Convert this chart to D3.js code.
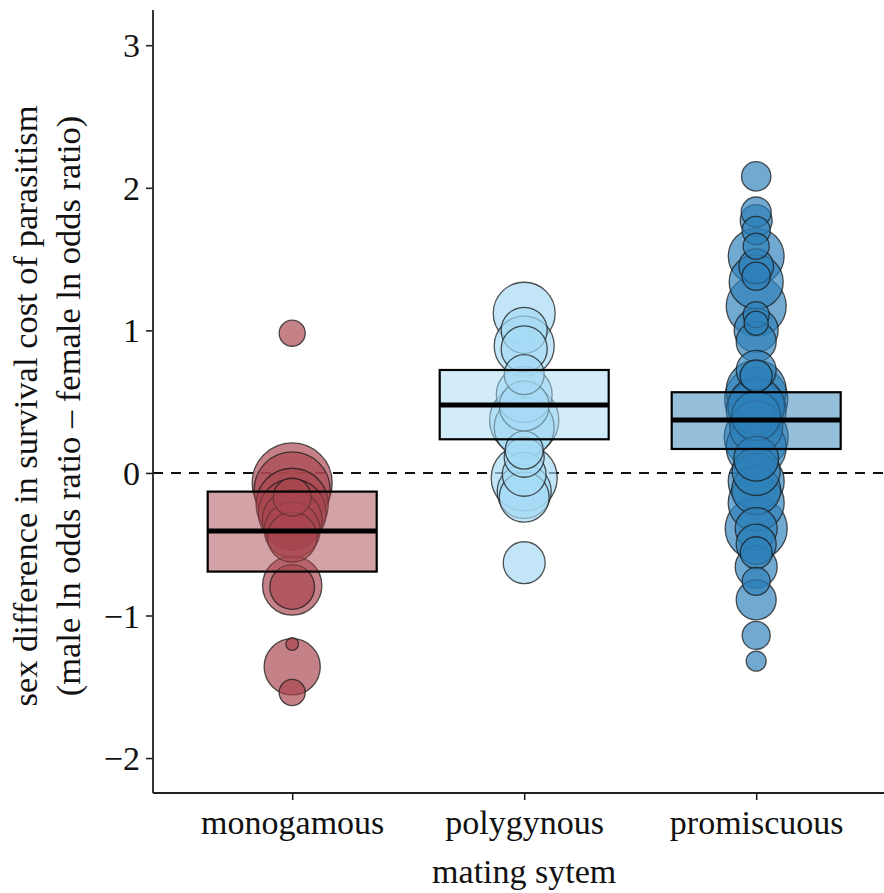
<!DOCTYPE html>
<html>
<head>
<meta charset="utf-8">
<script src="https://cdn.jsdelivr.net/npm/d3@7"></script>
<style>
  html, body { margin: 0; padding: 0; background: #fff; }
  svg { display: block; }
  text { font-family: "Liberation Serif", "DejaVu Serif", serif; fill: #111; }
</style>
</head>
<body>
<svg id="chart" width="884" height="893"></svg>
<script>
// Mating-system categories
const categories = ["monogamous", "polygynous", "promiscuous"];

// Effect sizes (male ln OR − female ln OR) with study weights, per mating system
const monoValues = [0.98, -0.07, -0.12, -0.17, -0.22, -0.28, -0.33, -0.40, -0.45, -0.79, -0.80, -1.20, -1.36, -1.54];
const monoWeights = [170, 1600, 1450, 360, 1300, 1150, 900, 780, 620, 880, 500, 40, 790, 170];

const polyValues = [1.12, 1.00, 0.89, 0.87, 0.69, 0.55, 0.47, 0.37, 0.32, 0.16, 0.11, -0.01, -0.035, -0.13, -0.17, -0.63];
const polyWeights = [960, 530, 900, 530, 400, 780, 620, 1200, 900, 360, 400, 480, 1090, 730, 620, 440];

const promValues = [2.08, 1.83, 1.77, 1.70, 1.59, 1.52, 1.45, 1.34, 1.38, 1.17, 1.11, 1.05, 1.00, 0.92, 0.72, 0.68,
  0.58, 0.52, 0.47, 0.44, 0.40, 0.32, 0.25, 0.18, 0.10, 0.01, -0.06, -0.12, -0.21, -0.39, -0.39, -0.50, -0.56,
  -0.66, -0.76, -0.89, -1.14, -1.32];
const promWeights = [215, 225, 256, 200, 170, 780, 300, 730, 200, 900, 170, 145, 484, 400, 400, 256,
  900, 1000, 800, 900, 600, 700, 1024, 900, 500, 576, 784, 600, 784, 961, 441, 400, 256,
  441, 196, 400, 196, 100];

// Model estimates: mean with lower / upper bounds
const estMean = [-0.408, 0.477, 0.372];
const estLower = [-0.692, 0.236, 0.168];
const estUpper = [-0.131, 0.722, 0.566];

// Axis ticks
const yTicks = [-2, -1, 0, 1, 2, 3];

const groupColors = ["#a8464e", "#a5daf5", "#2d80b9"];

const groups = [
  { values: monoValues, weights: monoWeights },
  { values: polyValues, weights: polyWeights },
  { values: promValues, weights: promWeights }
];

const svg = d3.select("#chart");
const margin = { left: 153, top: 10, bottom: 100 };
const W = 884, H = 893;
const plotBottom = H - margin.bottom;

// discrete x scale: one step per category, 0.6 step padding at the ends
const step = 232;
const x = d3.scalePoint()
  .domain(categories)
  .range([margin.left + 0.6 * step, margin.left + 0.6 * step + 2 * step]);

const y = d3.scaleLinear().domain([-2.245, 3.247]).range([plotBottom, margin.top]);
const r = d3.scaleSqrt().domain([0, 1600]).range([0, 40]);

// zero reference line
svg.append("line")
  .attr("x1", margin.left).attr("x2", W)
  .attr("y1", y(0)).attr("y2", y(0))
  .attr("stroke", "#111").attr("stroke-width", 2)
  .attr("stroke-dasharray", "10,8");

// effect-size points, largest drawn first
groups.forEach((g, i) => {
  const pts = g.values.map((v, k) => ({ v, w: g.weights[k] }))
    .sort((a, b) => b.w - a.w);
  svg.append("g").selectAll("circle").data(pts).join("circle")
    .attr("cx", x(categories[i]))
    .attr("cy", d => y(d.v))
    .attr("r", d => r(d.w))
    .attr("fill", groupColors[i])
    .attr("fill-opacity", 0.68)
    .attr("stroke", "#1a1a1a")
    .attr("stroke-opacity", 0.75)
    .attr("stroke-width", 1.3);
});

// estimate boxes (crossbars)
const boxW = 169;
categories.forEach((c, i) => {
  const cx = x(c);
  svg.append("rect")
    .attr("x", cx - boxW / 2).attr("width", boxW)
    .attr("y", y(estUpper[i])).attr("height", y(estLower[i]) - y(estUpper[i]))
    .attr("fill", groupColors[i]).attr("fill-opacity", 0.5)
    .attr("stroke", "#000").attr("stroke-width", 2.2);
  svg.append("line")
    .attr("x1", cx - boxW / 2).attr("x2", cx + boxW / 2)
    .attr("y1", y(estMean[i])).attr("y2", y(estMean[i]))
    .attr("stroke", "#000").attr("stroke-width", 5);
});

// y axis
const yAxis = svg.append("g")
  .attr("transform", `translate(${margin.left},0)`)
  .call(d3.axisLeft(y).tickValues(yTicks).tickSize(7).tickPadding(6)
    .tickFormat(d => d < 0 ? "\u2212" + Math.abs(d) : d));
yAxis.select(".domain").attr("d", `M0,${margin.top}V${plotBottom}`).attr("stroke", "#222").attr("stroke-width", 1.8);
yAxis.selectAll(".tick line").attr("stroke", "#222").attr("stroke-width", 1.6);
yAxis.selectAll(".tick text").attr("font-size", 34).attr("font-family", "Liberation Serif").attr("fill", "#111")
  .attr("dy", "0.34em");

// x axis
const xAxis = svg.append("g")
  .attr("transform", `translate(0,${plotBottom})`)
  .call(d3.axisBottom(x).tickSize(7).tickPadding(10));
xAxis.select(".domain").attr("d", `M${margin.left},0H${W}`).attr("stroke", "#222").attr("stroke-width", 1.8);
xAxis.selectAll(".tick line").attr("stroke", "#222").attr("stroke-width", 1.6);
xAxis.selectAll(".tick text").attr("font-size", 34).attr("font-family", "Liberation Serif").attr("fill", "#111");

// axis titles
svg.append("text")
  .attr("x", x(categories[1])).attr("y", 883)
  .attr("text-anchor", "middle").attr("font-size", 34)
  .text("mating sytem");

const yTitle = svg.append("text")
  .attr("transform", `translate(37,406) rotate(-90)`)
  .attr("text-anchor", "middle").attr("font-size", 34.5);
yTitle.append("tspan").attr("x", 0).attr("dy", 0).text("sex difference in survival cost of parasitism");
yTitle.append("tspan").attr("x", 0).attr("dy", 43).text("(male ln odds ratio \u2013 female ln odds ratio)");
</script>
</body>
</html>
